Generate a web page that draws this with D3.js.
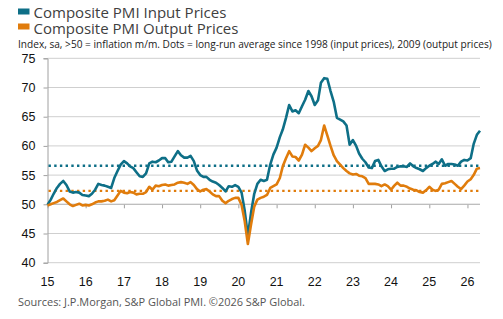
<!DOCTYPE html>
<html>
<head>
<meta charset="utf-8">
<script src="https://cdn.jsdelivr.net/npm/d3@7"></script>
<style>
  body { margin: 0; background: #fff; }
  svg { display: block; }
</style>
</head>
<body>
<div id="chart"></div>
<script>
// monthly data, Jan 2015 onwards
const startMonth = new Date(2015, 0, 1)

const inputPrices = [
  49.9, 50.8, 51.8, 52.8, 53.5, 54.0, 53.3, 52.2, 52.0, 52.1, 52.0, 51.6,
  51.5, 51.4, 51.8, 52.5, 53.5, 53.3, 53.2, 53.0, 52.8, 54.5, 55.7, 56.8,
  57.4, 57.0, 56.5, 56.2, 55.5, 54.8, 54.7, 55.3, 57.0, 57.3, 57.2, 57.5,
  57.9, 57.9, 57.2, 57.3, 58.2, 59.1, 58.4, 58.0, 58.0, 58.3, 57.4, 55.8,
  55.0, 54.7, 54.7, 54.2, 53.9, 53.7, 53.3, 52.8, 52.2, 53.1, 53.0, 53.3,
  53.0, 52.0, 49.0, 44.6, 48.5, 51.8, 53.5, 54.2, 54.0, 54.2, 56.8, 58.5,
  59.7, 61.5, 62.8, 64.8, 67.0, 65.9, 66.1, 65.6, 66.8, 67.9, 69.4, 68.5,
  67.0, 67.8, 70.8, 71.6, 71.5, 69.4, 67.6, 64.8, 64.5, 64.2, 63.5, 60.2,
  61.0, 60.0, 58.7, 57.8, 57.2, 56.3, 56.2, 57.4, 57.6, 56.5, 55.7, 56.0,
  56.1, 56.1, 56.4, 56.5, 56.5, 56.4, 57.0, 56.5, 56.2, 56.0, 55.7, 56.2,
  56.6, 56.9, 57.3, 56.9, 57.7, 56.6, 56.9, 56.9, 56.8, 56.6, 57.3, 57.6,
  57.5, 57.9, 60.3, 61.9, 62.6
]

const outputPrices = [
  49.8, 50.0, 50.2, 50.4, 50.7, 51.0, 50.5, 50.0, 49.7, 49.9, 50.1, 49.8,
  49.9, 49.8, 50.0, 50.3, 50.5, 50.5, 50.6, 50.8, 50.5, 50.7, 51.5, 52.3,
  52.0, 51.9, 52.1, 52.0, 51.7, 51.8, 51.8, 52.1, 53.0, 52.5, 53.2, 53.1,
  53.3, 53.4, 53.2, 53.3, 53.4, 53.7, 53.8, 53.7, 53.5, 53.8, 53.3, 52.6,
  52.2, 52.5, 52.6, 52.2, 51.7, 51.4, 51.4, 50.6, 50.2, 50.6, 50.9, 51.1,
  51.1, 49.9, 47.2, 43.2, 46.5, 49.6, 50.8, 51.1, 51.3, 51.6, 52.8, 53.1,
  53.4, 54.5, 56.5, 57.9, 59.1, 58.2, 58.1, 57.5, 58.5, 60.2, 59.7, 59.1,
  59.6, 60.0, 61.0, 63.5, 61.8, 60.0, 58.4, 57.4, 56.8, 56.2, 55.7, 55.3,
  55.1, 55.2, 54.9, 54.8, 54.5, 53.5, 53.5, 53.5, 53.4, 53.1, 53.4, 53.1,
  52.5, 53.2, 53.7, 53.2, 53.2, 53.0, 52.7, 52.5, 52.4, 52.1, 52.0, 52.4,
  53.0, 52.5, 52.3, 52.5, 53.5, 53.6, 53.8, 54.0, 53.5, 53.0, 52.6, 53.2,
  53.9, 54.3, 55.0, 56.1, 56.2
]

// long-run averages (dotted lines)
const inputAvg = 56.6
const outputAvg = 52.3

const yTicks = [40, 45, 50, 55, 60, 65, 70, 75]
const yearTicks = d3.range(2015, 2027).map(y => new Date(y, 0, 1))

const seriesNames = ['Composite PMI Input Prices', 'Composite PMI Output Prices']
const subtitle = 'Index, sa, >50 = inflation m/m. Dots = long-run average since 1998 (input prices), 2009 (output prices)'
const source = 'Sources: J.P.Morgan, S&P Global PMI. \u00a92026 S&P Global.'

const colors = { input: '#0e6f87', output: '#e07c0c' }

const dms = {
  width: 503,
  height: 319,
  left: 47.5,
  right: 480,
  top: 58.3,
  bottom: 262.7
}

const dates = inputPrices.map((d, i) => d3.timeMonth.offset(startMonth, i))

const xScale = d3.scaleTime()
  .domain([startMonth, dates[dates.length - 1]])
  .range([dms.left, dms.right])

const yScale = d3.scaleLinear()
  .domain([40, 75])
  .range([dms.bottom, dms.top])

const svg = d3.select('#chart').append('svg')
  .attr('width', dms.width)
  .attr('height', dms.height)
  .style('font-family', '"Open Sans", "Noto Sans", sans-serif')

// fit a text element to a measured width from the reference
function fitText(sel, target) {
  const w = sel.node().getComputedTextLength()
  const fs = parseFloat(sel.attr('font-size'))
  sel.attr('font-size', (fs * target / w).toFixed(2))
}

// legend
const legend = svg.append('g')
seriesNames.forEach((name, i) => {
  const col = i === 0 ? colors.input : colors.output
  legend.append('rect')
    .attr('x', 18)
    .attr('y', 8.5 + i * 15)
    .attr('width', 11.5)
    .attr('height', 6)
    .attr('fill', col)
  const t = legend.append('text')
    .attr('x', 33.5)
    .attr('y', 18 + i * 15.5)
    .attr('font-size', 13)
    .attr('fill', '#404040')
    .text(name)
  fitText(t, i === 0 ? 193 : 205)
})

const sub = svg.append('text')
  .attr('x', 18)
  .attr('y', 47.5)
  .attr('font-size', 10)
  .attr('fill', '#222')
  .text(subtitle)
fitText(sub, 474)

// grid
svg.append('g')
  .selectAll('line')
  .data(yTicks)
  .join('line')
  .attr('x1', dms.left)
  .attr('x2', dms.right)
  .attr('y1', d => yScale(d))
  .attr('y2', d => yScale(d))
  .attr('stroke', '#cfcfcf')
  .attr('stroke-width', 1)

// y axis
const yAxis = svg.append('g')
  .attr('transform', `translate(${dms.left},0)`)
  .call(d3.axisLeft(yScale).tickValues(yTicks).tickSize(4).tickPadding(8))
yAxis.select('.domain').attr('stroke', '#a0a0a0')
yAxis.selectAll('.tick line').attr('stroke', '#a0a0a0')
yAxis.selectAll('text')
  .attr('font-family', '"Liberation Sans", Arial, sans-serif')
  .attr('font-size', 12.5)
  .attr('fill', '#111')

// x axis crossing at 50
const xAxis = svg.append('g')
  .attr('transform', `translate(0,${yScale(50)})`)
  .call(d3.axisBottom(xScale).tickValues(yearTicks).tickSize(4).tickFormat(''))
xAxis.select('.domain').remove()
xAxis.selectAll('.tick line').attr('stroke', '#a0a0a0')

svg.append('line')
  .attr('x1', dms.left)
  .attr('x2', dms.right)
  .attr('y1', yScale(50))
  .attr('y2', yScale(50))
  .attr('stroke', '#b8b8b8')

// year labels at the bottom
svg.append('g')
  .selectAll('text')
  .data(yearTicks)
  .join('text')
  .attr('x', d => xScale(d))
  .attr('y', 285.5)
  .attr('text-anchor', 'middle')
  .attr('font-family', '"Liberation Sans", Arial, sans-serif')
  .attr('font-size', 12.5)
  .attr('fill', '#111')
  .text(d3.timeFormat('%y'))

// long-run averages
const avgs = [
  { v: inputAvg, col: colors.input },
  { v: outputAvg, col: colors.output }
]
svg.append('g')
  .selectAll('line')
  .data(avgs)
  .join('line')
  .attr('x1', dms.left + 1)
  .attr('x2', dms.right)
  .attr('y1', d => yScale(d.v))
  .attr('y2', d => yScale(d.v))
  .attr('stroke', d => d.col)
  .attr('stroke-width', 2.4)
  .attr('stroke-dasharray', '2.4,3.3')

// series lines
const lineGen = d3.line()
  .x((d, i) => xScale(dates[i]))
  .y(d => yScale(d))

svg.append('path')
  .datum(inputPrices)
  .attr('d', lineGen)
  .attr('fill', 'none')
  .attr('stroke', colors.input)
  .attr('stroke-width', 2.6)
  .attr('stroke-linejoin', 'round')

svg.append('path')
  .datum(outputPrices)
  .attr('d', lineGen)
  .attr('fill', 'none')
  .attr('stroke', colors.output)
  .attr('stroke-width', 2.6)
  .attr('stroke-linejoin', 'round')

const src = svg.append('text')
  .attr('x', 18)
  .attr('y', 305.5)
  .attr('font-size', 10)
  .attr('fill', '#555')
  .text(source)
fitText(src, 287)
</script>
</body>
</html>
